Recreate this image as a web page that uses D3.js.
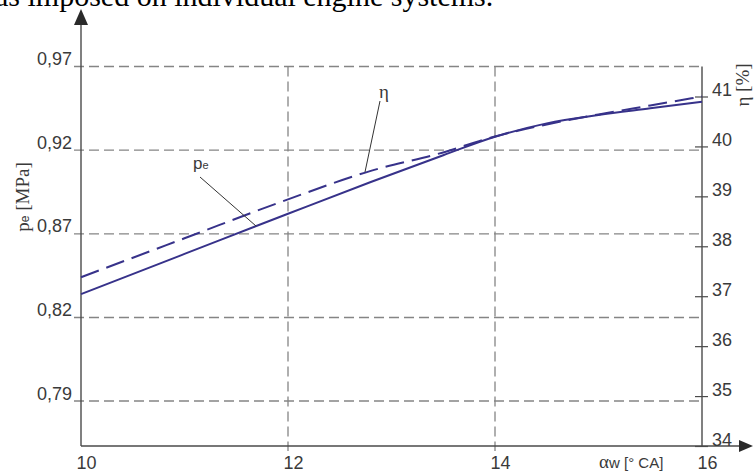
<!DOCTYPE html>
<html>
<head>
<meta charset="utf-8">
<script src="https://cdn.jsdelivr.net/npm/d3@7/dist/d3.min.js"></script>
<style>
  html, body { margin: 0; padding: 0; background: #fff; overflow: hidden; }
  svg { display: block; }
</style>
</head>
<body>
<script>
// Ignition timing sweep: effective pressure and efficiency
const alphaW    = [10, 11, 12, 12.8, 13.5, 14, 14.5, 15, 15.5, 16];
const peValues  = [0.834, 0.858, 0.882, 0.901, 0.917, 0.928, 0.936, 0.941, 0.945, 0.949];
const etaValues = [37.38, 38.16, 38.94, 39.51, 39.88, 40.20, 40.44, 40.64, 40.82, 41.00];

const xTicks      = [10, 12, 14, 16];
const peTicks     = [0.79, 0.82, 0.87, 0.92, 0.97];
const peTickText  = ["0,79", "0,82", "0,87", "0,92", "0,97"];
const etaTicks    = [34, 35, 36, 37, 38, 39, 40, 41];

const W = 754, H = 473;
const plotL = 81, plotR = 702, plotT = 66.5, plotB = 446;

const svg = d3.select("body").append("svg")
  .attr("width", W).attr("height", H);

const x = d3.scaleLinear().domain([10, 16]).range([plotL, plotR]);
// the left axis labels are spaced evenly although 0,79 -> 0,82 is a smaller step
const yP = d3.scaleLinear().domain([0.79, 0.82, 0.97]).range([401, 317.5, plotT]);
const yE = d3.scaleLinear().domain([34, 41]).range([plotB, 96.5]);

const gridColor = "#858585";
const axisColor = "#4a4a4a";
const textColor = "#3a3a3a";
const lineColor = "#37328a";
const sans = "'Liberation Sans', Arial, sans-serif";
const serif = "'Liberation Serif', 'Times New Roman', serif";
const intFmt = d3.format("d");

// running text of the page above the figure
svg.append("text")
  .attr("x", -5).attr("y", 5.5)
  .attr("font-family", serif).attr("font-size", 30).attr("fill", "#000")
  .text("as imposed on individual engine systems.");

// horizontal grid
svg.append("g").selectAll("line").data(peTicks).join("line")
  .attr("x1", plotL - 7).attr("x2", plotR)
  .attr("y1", d => yP(d)).attr("y2", d => yP(d))
  .attr("stroke", gridColor).attr("stroke-width", 1.3)
  .attr("stroke-dasharray", "10,5");

// vertical grid
svg.append("g").selectAll("line").data(xTicks.slice(1, -1)).join("line")
  .attr("x1", d => x(d)).attr("x2", d => x(d))
  .attr("y1", plotT).attr("y2", plotB + 5)
  .attr("stroke", gridColor).attr("stroke-width", 1.3)
  .attr("stroke-dasharray", "10,5");

// left axis
const gL = svg.append("g").attr("transform", `translate(${plotL},0)`)
  .call(d3.axisLeft(yP).tickValues(peTicks)
    .tickFormat((d, i) => peTickText[i]).tickSize(0).tickPadding(9));
gL.select(".domain").remove();
gL.selectAll("text")
  .attr("dy", 0).attr("y", -2)
  .attr("font-family", sans).attr("font-size", 18).attr("fill", textColor);

svg.append("line")
  .attr("x1", plotL).attr("x2", plotL).attr("y1", plotB).attr("y2", 22)
  .attr("stroke", axisColor).attr("stroke-width", 1.4);
svg.append("path")
  .attr("d", `M${plotL},9 L${plotL - 7},25 L${plotL + 7},25 Z`)
  .attr("fill", "#2a2a2a");

// bottom axis
const gB = svg.append("g").attr("transform", `translate(0,${plotB})`)
  .call(d3.axisBottom(x).tickValues(xTicks).tickFormat(intFmt)
    .tickSize(0).tickPadding(0));
gB.select(".domain").remove();
gB.selectAll("text")
  .attr("dy", 0).attr("y", 23).attr("dx", 5)
  .attr("font-family", sans).attr("font-size", 18).attr("fill", textColor);

svg.append("line")
  .attr("x1", plotL).attr("x2", 742).attr("y1", plotB).attr("y2", plotB)
  .attr("stroke", axisColor).attr("stroke-width", 1.4);
svg.append("path")
  .attr("d", `M753,${plotB} L739,${plotB - 6} L739,${plotB + 6} Z`)
  .attr("fill", "#2a2a2a");

// right axis
svg.append("line")
  .attr("x1", plotR).attr("x2", plotR).attr("y1", plotT).attr("y2", plotB)
  .attr("stroke", axisColor).attr("stroke-width", 1.4);
const gR = svg.append("g").attr("transform", `translate(${plotR},0)`)
  .call(d3.axisRight(yE).tickValues(etaTicks).tickFormat(intFmt)
    .tickSize(6).tickPadding(4));
gR.select(".domain").remove();
gR.selectAll(".tick line")
  .attr("x1", -7).attr("x2", 6)
  .attr("stroke", axisColor).attr("stroke-width", 1.2);
gR.selectAll("text")
  .attr("dy", 0).attr("y", -1).attr("x", 10)
  .attr("font-family", sans).attr("font-size", 18).attr("fill", textColor);

// axis titles
svg.append("text")
  .attr("transform", "translate(29,197) rotate(-90)")
  .attr("text-anchor", "middle")
  .attr("font-family", serif).attr("font-size", 19).attr("fill", textColor)
  .call(t => {
    t.append("tspan").text("p");
    t.append("tspan").attr("font-family", sans).attr("font-size", 12).text("e");
    t.append("tspan").text(" [MPa]");
  });

svg.append("text")
  .attr("transform", "translate(749,85) rotate(-90)")
  .attr("text-anchor", "middle")
  .attr("font-family", serif).attr("font-size", 19).attr("fill", textColor)
  .text("η [%]");

svg.append("text")
  .attr("x", 599).attr("y", 468)
  .attr("fill", textColor)
  .call(t => {
    t.append("tspan").attr("font-family", serif).attr("font-size", 19).text("α");
    t.append("tspan").attr("font-family", sans).attr("font-size", 15).text("w [° CA]");
  });

// curves
const linePe = d3.line()
  .x((d, i) => x(alphaW[i])).y(d => yP(d))
  .curve(d3.curveMonotoneX);
const lineEta = d3.line()
  .x((d, i) => x(alphaW[i])).y(d => yE(d))
  .curve(d3.curveMonotoneX);

svg.append("path").datum(peValues)
  .attr("d", linePe)
  .attr("fill", "none").attr("stroke", lineColor).attr("stroke-width", 2);

svg.append("path").datum(etaValues)
  .attr("d", lineEta)
  .attr("fill", "none").attr("stroke", lineColor).attr("stroke-width", 2)
  .attr("stroke-dasharray", "19,8");

// curve labels with leader lines
svg.append("line")
  .attr("x1", 380).attr("y1", 101).attr("x2", 365).attr("y2", 172)
  .attr("stroke", "#333").attr("stroke-width", 1);
svg.append("text")
  .attr("x", 379).attr("y", 98)
  .attr("font-family", serif).attr("font-size", 19).attr("fill", textColor)
  .text("η");

svg.append("line")
  .attr("x1", 200).attr("y1", 177).attr("x2", 256).attr("y2", 226)
  .attr("stroke", "#333").attr("stroke-width", 1);
svg.append("text")
  .attr("x", 193).attr("y", 169)
  .attr("font-family", sans).attr("font-size", 17).attr("fill", textColor)
  .call(t => {
    t.append("tspan").text("p");
    t.append("tspan").attr("font-size", 11).text("e");
  });
</script>
</body>
</html>
